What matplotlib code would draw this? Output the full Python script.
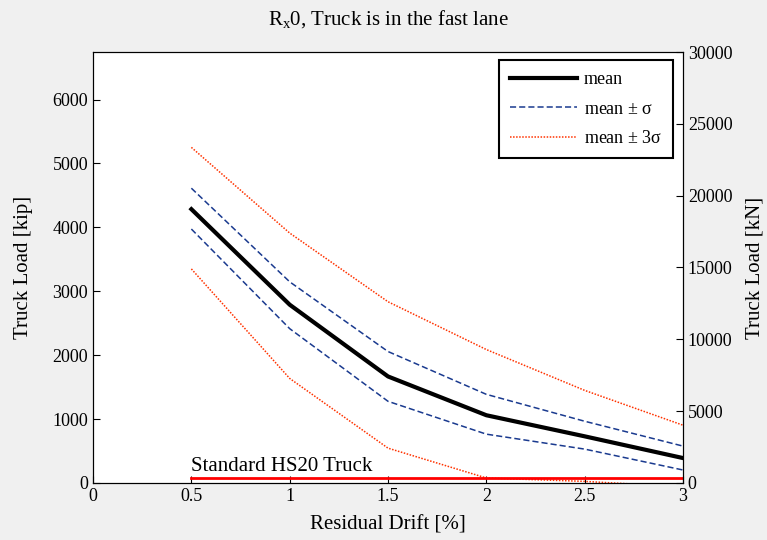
import matplotlib
matplotlib.use('Agg')
import matplotlib.pyplot as plt

plt.rcParams['font.family'] = ['Liberation Serif', 'DejaVu Serif']
plt.rcParams['mathtext.fontset'] = 'custom'
plt.rcParams['mathtext.rm'] = 'Liberation Serif'
plt.rcParams['mathtext.it'] = 'Liberation Serif'

# данные (kip)
drift = [0.5, 1.0, 1.5, 2.0, 2.5, 3.0]
mean = [4285, 2790, 1667, 1060, 730, 390]
plus_sigma = [4613, 3148, 2057, 1387, 966, 577]
minus_sigma = [3974, 2415, 1278, 764, 530, 203]
plus_3sigma = [5252, 3911, 2836, 2088, 1449, 904]
minus_3sigma = [3350, 1636, 545, 78, 25, -60]
hs20_load = 72
kip_to_kn = 4.448

fig = plt.figure(figsize=(7.67, 5.40), dpi=100, facecolor='#f0f0f0')
ax = fig.add_axes([0.1213, 0.1056, 0.7692, 0.7981])

ax.plot(drift, mean, color='black', lw=3, label='mean')
ax.plot(drift, plus_sigma, color='#1a3a8f', lw=1.1, ls=(0, (4, 2)), label=r'mean $\pm$ $\sigma$')
ax.plot(drift, minus_sigma, color='#1a3a8f', lw=1.1, ls=(0, (4, 2)))
ax.plot(drift, plus_3sigma, color='#ff3300', lw=1.1, ls=(0, (1, 1)), label=r'mean $\pm$ 3$\sigma$')
ax.plot(drift, minus_3sigma, color='#ff3300', lw=1.1, ls=(0, (1, 1)))
ax.plot([drift[0], drift[-1]], [hs20_load, hs20_load], color='red', lw=2)
ax.text(0.5, hs20_load + 40, 'Standard HS20 Truck', fontsize=15, va='bottom', ha='left')

top = 30000 / kip_to_kn
ax.set_xlim(0, 3)
ax.set_ylim(0, top)
ax.set_xticks([0, 0.5, 1, 1.5, 2, 2.5, 3])
ax.set_xticklabels(['0', '0.5', '1', '1.5', '2', '2.5', '3'])
ax.set_yticks(range(0, 7000, 1000))
ax.tick_params(direction='in', labelsize=13, length=5)
ax.set_xlabel('Residual Drift [%]', fontsize=15, labelpad=8)
ax.set_ylabel('Truck Load [kip]', fontsize=15, labelpad=14)
ax.set_title(r'R$_\mathregular{x}$0, Truck is in the fast lane', fontsize=15, pad=20)

ax2 = ax.twinx()
ax2.set_ylim(0, 30000)
ax2.set_yticks(range(0, 30001, 5000))
ax2.tick_params(direction='in', labelsize=13, length=5)
ax2.set_ylabel('Truck Load [kN]', fontsize=15, labelpad=9)

leg = ax.legend(loc='upper right', bbox_to_anchor=(0.983, 0.981), borderaxespad=0,
                fontsize=13, fancybox=False, edgecolor='black', framealpha=1,
                handlelength=3.7, handletextpad=0.4, borderpad=0.6, labelspacing=0.7)
leg.get_frame().set_linewidth(1.5)

fig.savefig('out.png', dpi=100, facecolor=fig.get_facecolor())
